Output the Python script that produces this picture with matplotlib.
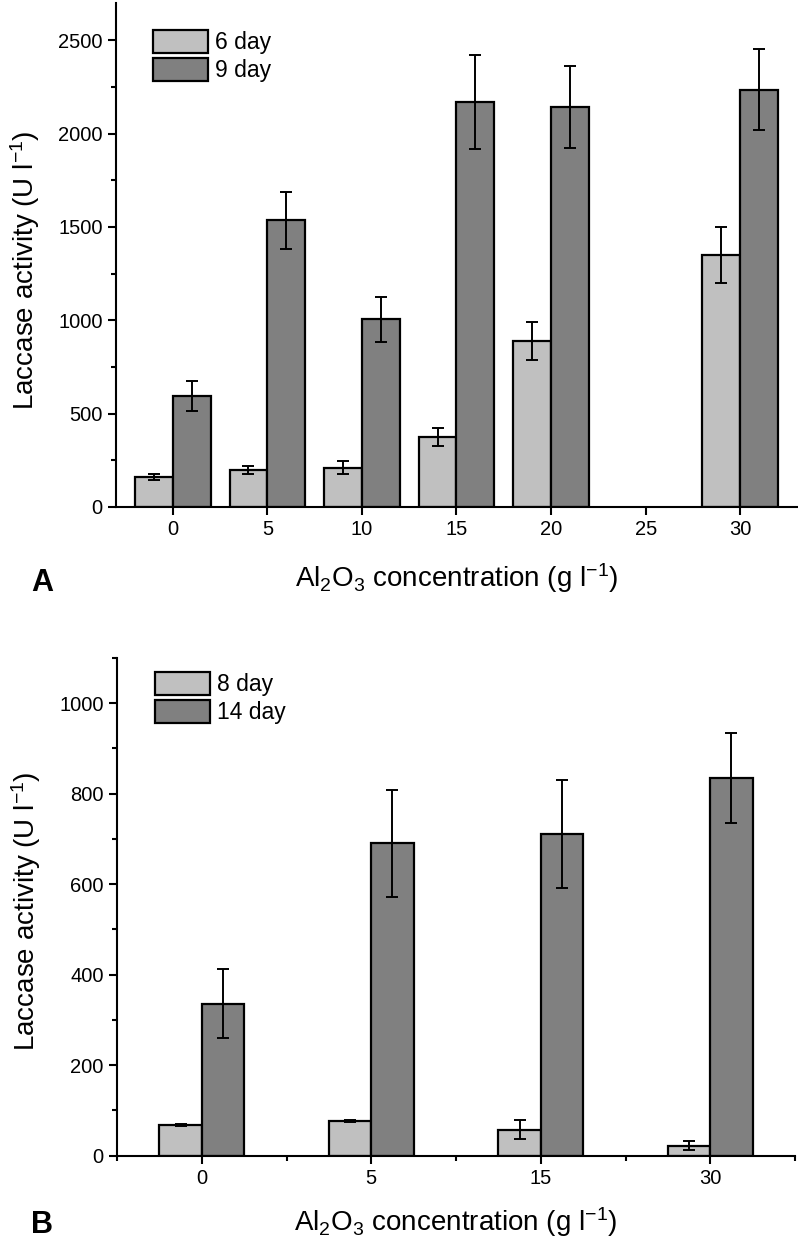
import numpy as np
import matplotlib
matplotlib.use("Agg")
import matplotlib.pyplot as plt
from matplotlib.ticker import MultipleLocator, FixedLocator

plt.rcParams['font.family'] = ['Liberation Sans', 'DejaVu Sans']
plt.rcParams['mathtext.fontset'] = 'custom'
plt.rcParams['mathtext.rm'] = 'Liberation Sans'
plt.rcParams['mathtext.default'] = 'regular'

# Panel A data (Al2O3 concentration, g/l) - no bars at 25
conc_a = [0, 5, 10, 15, 20, 30]
day6 = [160, 200, 210, 375, 890, 1350]
day6_err = [15, 22, 34, 50, 100, 150]
day9 = [595, 1535, 1005, 2170, 2145, 2235]
day9_err = [80, 155, 122, 250, 220, 218]
ticks_a = [0, 5, 10, 15, 20, 25, 30]

# Panel B data
conc_b = ['0', '5', '15', '30']
day8 = [68, 76, 57, 22]
day8_err = [2, 2, 21, 10]
day14 = [336, 690, 711, 835]
day14_err = [77, 118, 120, 100]

light = '#c0c0c0'
dark = '#808080'
ylab = 'Laccase activity (U l$^{-1}$)'
xlab = 'Al$_2$O$_3$ concentration (g l$^{-1}$)'
err_kw = dict(ecolor='black', elinewidth=1.4, capsize=4.3, capthick=1.4)

fig = plt.figure(figsize=(7.98, 12.51), dpi=100)
ax1 = fig.add_axes([116/798, 1 - 507/1251, 681/798, 504/1251])
ax2 = fig.add_axes([117/798, 1 - 1155.5/1251, 678/798, 497.5/1251])


def style(ax):
    for s in ['top', 'right']:
        ax.spines[s].set_visible(False)
    for s in ['left', 'bottom']:
        ax.spines[s].set_linewidth(1.5)
    ax.tick_params(which='major', direction='out', length=6, width=1.5, labelsize=14.5)
    ax.tick_params(which='minor', direction='out', length=3.5, width=1.5)


# Panel A
w = 2.0
xa = np.array(conc_a)
ax1.bar(xa - w/2, day6, w, yerr=day6_err, color=light, edgecolor='black',
        linewidth=1.6, error_kw=err_kw, label='6 day')
ax1.bar(xa + w/2, day9, w, yerr=day9_err, color=dark, edgecolor='black',
        linewidth=1.6, error_kw=err_kw, label='9 day')
ax1.set_xlim(-3, 33)
ax1.set_ylim(0, 2700)
ax1.set_xticks(ticks_a)
ax1.yaxis.set_major_locator(FixedLocator([0, 500, 1000, 1500, 2000, 2500]))
ax1.yaxis.set_minor_locator(FixedLocator([250, 750, 1250, 1750, 2250]))
style(ax1)
ax1.set_ylabel(ylab, fontsize=20)
ax1.yaxis.label.set_va('center')
ax1.yaxis.set_label_coords(-0.134, 0.47)
ax1.set_xlabel(xlab, fontsize=20, va='center')
ax1.xaxis.set_label_coords(0.5, -0.141)
ax1.legend(loc='upper left', bbox_to_anchor=(37/681, 1 - 27/504), frameon=False,
           fontsize=16.5, handlelength=2.4, handleheight=1.15, labelspacing=0.18,
           handletextpad=0.3, borderpad=0, borderaxespad=0)

# Panel B
wb = 0.25
xb = np.arange(len(conc_b))
ax2.bar(xb - wb/2, day8, wb, yerr=day8_err, color=light, edgecolor='black',
        linewidth=1.6, error_kw=err_kw, label='8 day')
ax2.bar(xb + wb/2, day14, wb, yerr=day14_err, color=dark, edgecolor='black',
        linewidth=1.6, error_kw=err_kw, label='14 day')
ax2.set_xlim(-0.5, 3.5)
ax2.set_ylim(0, 1100)
ax2.set_xticks(xb)
ax2.set_xticklabels(conc_b)
ax2.xaxis.set_minor_locator(FixedLocator(np.arange(-0.5, 3.6, 1.0)))
ax2.yaxis.set_major_locator(MultipleLocator(200))
ax2.yaxis.set_minor_locator(MultipleLocator(100))
style(ax2)
ax2.set_ylabel(ylab, fontsize=20)
ax2.yaxis.label.set_va('center')
ax2.yaxis.set_label_coords(-0.134, 0.49)
ax2.set_xlabel(xlab, fontsize=20, va='center')
ax2.xaxis.set_label_coords(0.5, -0.134)
ax2.legend(loc='upper left', bbox_to_anchor=(38/678, 1 - 14/497.5), frameon=False,
           fontsize=16.5, handlelength=2.4, handleheight=1.15, labelspacing=0.18,
           handletextpad=0.3, borderpad=0, borderaxespad=0)

fig.text(42/798, 1 - 583/1251, 'A', fontsize=22, fontweight='bold', ha='center', va='center')
fig.text(42/798, 1 - 1225/1251, 'B', fontsize=22, fontweight='bold', ha='center', va='center')

fig.savefig('out.png', dpi=100)
